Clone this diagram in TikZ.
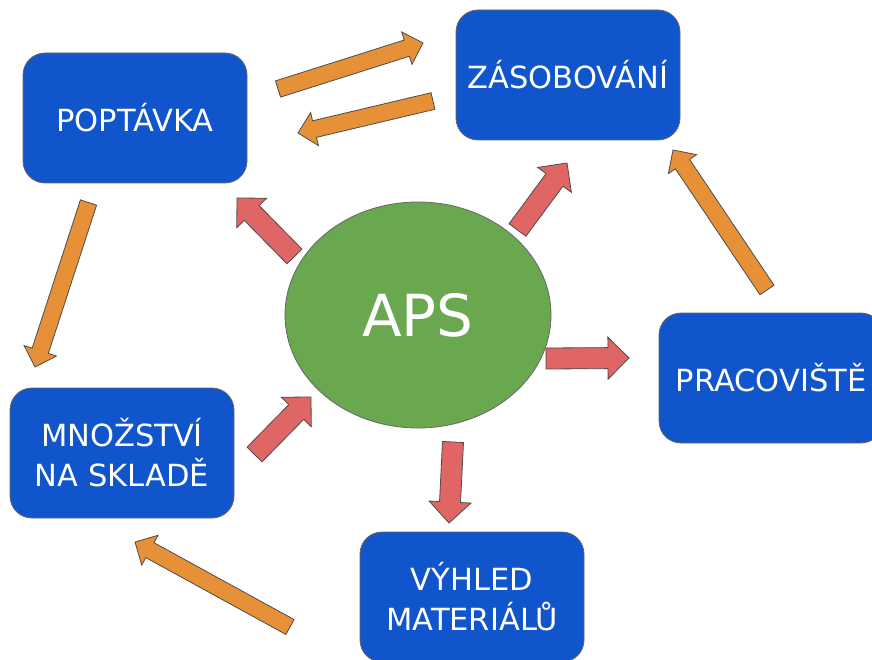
\documentclass[tikz,border=0pt]{standalone}
\usepackage{fontspec}
\setmainfont{DejaVu Sans}
\usetikzlibrary{calc, shapes.geometric}
\definecolor{boxblue}{HTML}{1155CC}
\definecolor{apsgreen}{HTML}{6AA84F}
\definecolor{floworange}{HTML}{E69138}
\definecolor{flowred}{HTML}{E06666}
\tikzset{
  stage/.style   = {rectangle, rounded corners=22pt, draw=black!60, line width=0.8pt,
                    fill=boxblue, text=white, minimum width=224pt, minimum height=130pt,
                    align=center, font=\fontsize{30.5}{40}\selectfont},
  core/.style    = {ellipse, draw=black!60, line width=0.8pt, fill=apsgreen, text=white,
                    minimum width=266pt, minimum height=226pt, font=\fontsize{58}{60}\selectfont},
  orflow/.style  = {fill=floworange, draw=black!70, line width=0.8pt},
  redflow/.style = {fill=flowred, draw=black!70, line width=0.8pt},
}
% block arrow: style, half shaft width, tail, tip
\newcommand{\blockarrow}[4]{%
  \coordinate (hb) at ($(#4)!2*#2!(#3)$);
  \draw[#1] ($(#3)!#2!90:(#4)$) -- ($(hb)!#2!90:(#4)$) -- ($(hb)!2*#2!90:(#4)$) -- (#4)
    -- ($(hb)!2*#2!-90:(#4)$) -- ($(hb)!#2!-90:(#4)$) -- ($(#3)!#2!-90:(#4)$) -- cycle;
}

\begin{document}
\begin{tikzpicture}[x=1pt, y=-1pt]
  \useasboundingbox (0,0) rectangle (872,660);
  \clip (0,0) rectangle (872,660);

  \node[stage] (pop)  at (135,118) {POPTÁVKA};
  \node[stage] (zas)  at (568,75)  {ZÁSOBOVÁNÍ};
  \node[stage] (prac) at (771,378) {PRACOVIŠTĚ};
  \node[stage] (mnoz) at (122,453) {MNOŽSTVÍ\\NA SKLADĚ};
  \node[stage] (vyhl) at (472,597) {VÝHLED\\MATERIÁLŮ};
  \node[core]  (aps)  at (418,315) {APS};

  % ends of the orange arrows
  \coordinate (popzas-a)  at (278,89);   \coordinate (popzas-b)  at (423,43);
  \coordinate (zaspop-a)  at (433,101);  \coordinate (zaspop-b)  at (298,133);
  \coordinate (popmnoz-a) at (88.5,202.5); \coordinate (popmnoz-b) at (35,367);
  \coordinate (vyhlmnoz-a) at (290,627); \coordinate (vyhlmnoz-b) at (135,542);
  \coordinate (praczas-a) at (767,290);  \coordinate (praczas-b) at (673,150);
  % ends of the red arrows
  \coordinate (apspop-a)  at (294.5,256.5); \coordinate (apspop-b) at (237,198);
  \coordinate (apszas-a)  at (517.5,230);   \coordinate (apszas-b) at (567,163);
  \coordinate (apsprac-a) at (546,358.5);   \coordinate (apsprac-b) at (629,358);
  \coordinate (apsvyhl-a) at (453,442);     \coordinate (apsvyhl-b) at (449,523);
  \coordinate (mnozaps-a) at (254.5,454.5); \coordinate (mnozaps-b) at (311,397);

  \blockarrow{orflow}{8.5pt}{popzas-a}{popzas-b}
  \blockarrow{orflow}{8.5pt}{zaspop-a}{zaspop-b}
  \blockarrow{orflow}{8.5pt}{popmnoz-a}{popmnoz-b}
  \blockarrow{orflow}{8.5pt}{vyhlmnoz-a}{vyhlmnoz-b}
  \blockarrow{orflow}{8.5pt}{praczas-a}{praczas-b}

  \blockarrow{redflow}{10.5pt}{apspop-a}{apspop-b}
  \blockarrow{redflow}{10.5pt}{apszas-a}{apszas-b}
  \blockarrow{redflow}{10.5pt}{apsprac-a}{apsprac-b}
  \blockarrow{redflow}{10.5pt}{apsvyhl-a}{apsvyhl-b}
  \blockarrow{redflow}{10.5pt}{mnozaps-a}{mnozaps-b}
\end{tikzpicture}
\end{document}
